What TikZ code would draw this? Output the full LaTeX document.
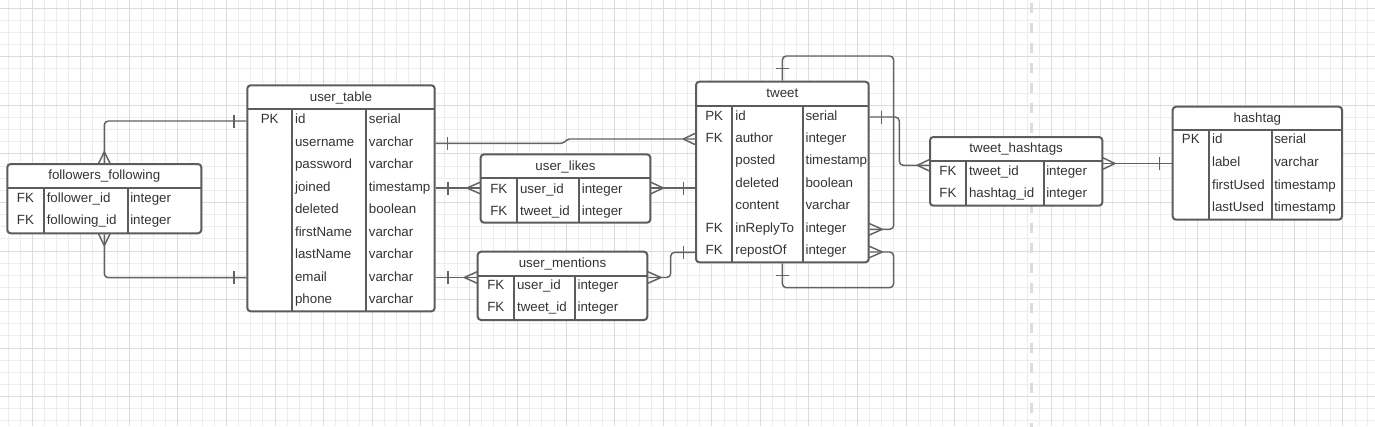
\documentclass[tikz,border=0pt]{standalone}
\usepackage{fontspec}
\setmainfont{Liberation Sans}
\usetikzlibrary{fit}
\definecolor{gridminor}{HTML}{EDEDED}
\definecolor{gridmajor}{HTML}{DCDCDC}
\definecolor{dashcol}{HTML}{DCDCDC}
\definecolor{boxcol}{HTML}{5C5C5C}
\definecolor{linecol}{HTML}{626262}
\definecolor{txtcol}{HTML}{333333}
\newcommand\erfont{\fontsize{10}{12}\selectfont}
\tikzset{
  gridmin/.style={draw=gridminor, line width=0.75pt},
  gridmaj/.style={draw=gridmajor, line width=0.75pt},
  dashline/.style={draw=dashcol, line width=2.25pt, dash pattern=on 7.125pt off 7.875pt},
  tbl/.style={draw=boxcol, line width=1.5pt, fill=white, rounded corners=2.5pt, inner sep=0pt},
  tline/.style={draw=boxcol, line width=1.5pt},
  ttl/.style={anchor=base, inner sep=0pt, text=txtcol, font=\erfont},
  fld/.style={anchor=base west, inner sep=0pt, text=txtcol, font=\erfont},
  fldk/.style={anchor=base, inner sep=0pt, text=txtcol, font=\erfont},
  conn/.style={draw=linecol, line width=1.1pt, rounded corners=3pt},
}
% table: name, x1, y1, x2, y2, header-sep y, col1 x, col2 x, title
\newcommand\ertable[9]{%
  \node[tbl, fit={(#2,#3)(#4,#5)}] (#1) {};
  \draw[tline] (#2,#6) -- (#4,#6) (#7,#6) -- (#7,#5) (#8,#6) -- (#8,#5);
  \node[ttl] (#1-title) at ({(#2+#4)/2},{(#3+#6)/2+3.8}) {#9};
  \def\kx{(#2+#7)/2}\def\nx{#7+2.8}\def\tx{#8+2.3}%
}
% row: name, y, key, field, type
\newcommand\errow[5]{%
  \if\relax\detokenize{#3}\relax\else
    \node[fldk] (#1-k) at ({\kx},{#2+4.4}) {#3};
  \fi
  \node[fld] (#1) at ({\nx},{#2+4.4}) {#4};
  \node[fld] (#1-t) at ({\tx},{#2+4.4}) {#5};
}
\newcommand\crowH[3]{\draw[conn] (#1,#3) -- (#2,{#3-6}) (#1,#3) -- (#2,{#3+6});}
\newcommand\crowV[3]{\draw[conn] (#1,#2) -- ({#1-6},#3) (#1,#2) -- ({#1+6},#3);}
\newcommand\barV[2]{\draw[conn] (#1,{#2-6.5}) -- (#1,{#2+6.5});}
\newcommand\barH[2]{\draw[conn] ({#1-6.5},#2) -- ({#1+6.5},#2);}
\begin{document}
\begin{tikzpicture}[x=0.75pt,y=-0.75pt]
\useasboundingbox (0,0) rectangle (1375,426);
\fill[white] (0,0) rectangle (1375,426);
\begin{scope}
  \clip (0,0) rectangle (1375,426);
  \foreach \i in {0,...,113} \draw[gridmin] ({8.03+12.135*\i},0) -- ({8.03+12.135*\i},426);
  \foreach \j in {0,...,34} \draw[gridmin] (0,{8.3+12.135*\j}) -- (1375,{8.3+12.135*\j});
  \foreach \i in {0,...,27} \draw[gridmaj] ({32.3+48.54*\i},0) -- ({32.3+48.54*\i},426);
  \foreach \j in {0,...,8} \draw[gridmaj] (0,{8.3+48.54*\j}) -- (1375,{8.3+48.54*\j});
  \draw[dashline] (1031.7,3.3) -- (1031.7,430);
\end{scope}

% ---------- tables ----------
\ertable{ff}{7.3}{164}{201.3}{233.3}{188}{43.7}{127.7}{followers\_following}
\errow{ff-follower}{197.7}{FK}{follower\_id}{integer}
\errow{ff-following}{220}{FK}{following\_id}{integer}

\ertable{ut}{247.3}{85.3}{434.7}{311.3}{109.3}{292}{366.3}{user\_table}
\errow{ut-id}{119.3}{PK}{id}{serial}
\errow{ut-username}{141.8}{}{username}{varchar}
\errow{ut-password}{164.3}{}{password}{varchar}
\errow{ut-joined}{186.8}{}{joined}{timestamp}
\errow{ut-deleted}{209.3}{}{deleted}{boolean}
\errow{ut-firstname}{231.8}{}{firstName}{varchar}
\errow{ut-lastname}{254.3}{}{lastName}{varchar}
\errow{ut-email}{276.8}{}{email}{varchar}
\errow{ut-phone}{299.3}{}{phone}{varchar}

\ertable{ul}{480.7}{154.3}{650.3}{222.7}{178.3}{517}{579.3}{user\_likes}
\errow{ul-user}{188.7}{FK}{user\_id}{integer}
\errow{ul-tweet}{210.7}{FK}{tweet\_id}{integer}

\ertable{um}{477.7}{251.7}{647.3}{320}{275.7}{514}{575}{user\_mentions}
\errow{um-user}{285.3}{FK}{user\_id}{integer}
\errow{um-tweet}{307.3}{FK}{tweet\_id}{integer}

\ertable{tw}{696}{81.7}{868.7}{262.3}{105.7}{732.3}{803}{tweet}
\errow{tw-id}{115.7}{PK}{id}{serial}
\errow{tw-author}{138.1}{FK}{author}{integer}
\errow{tw-posted}{160.5}{}{posted}{timestamp}
\errow{tw-deleted}{182.9}{}{deleted}{boolean}
\errow{tw-content}{205.3}{}{content}{varchar}
\errow{tw-reply}{227.7}{FK}{inReplyTo}{integer}
\errow{tw-repost}{250.1}{FK}{repostOf}{integer}

\ertable{th}{930}{137}{1102.3}{205.7}{161}{966}{1043.7}{tweet\_hashtags}
\errow{th-tweet}{171}{FK}{tweet\_id}{integer}
\errow{th-hashtag}{193.3}{FK}{hashtag\_id}{integer}

\ertable{ht}{1172.7}{106.7}{1342}{219.7}{129.7}{1209}{1271.7}{hashtag}
\errow{ht-id}{139.5}{PK}{id}{serial}
\errow{ht-label}{162.1}{}{label}{varchar}
\errow{ht-first}{184.7}{}{firstUsed}{timestamp}
\errow{ht-last}{207.3}{}{lastUsed}{timestamp}

% ---------- connectors ----------
% followers_following -> user_table (id)
\coordinate (ut-id-w) at (ut.west |- 0,121);
\draw[conn] (ff.north) |- (ut-id-w);
\crowV{104.3}{151.7}{164}
\barV{234}{121}
% followers_following -> user_table (email)
\coordinate (ut-email-w) at (ut.west |- 0,277.7);
\draw[conn] (ff.south) |- (ut-email-w);
\crowV{104.3}{245.7}{233.3}
\barV{234}{277.7}
% user_table username -> tweet author
\coordinate (ut-username-e) at (ut.east |- 0,143.3);
\coordinate (tw-author-w) at (tw.west |- 0,139);
\draw[conn, rounded corners=1.5pt] (ut-username-e) -- (563.3,143.3) -- (567.5,139) -- (tw-author-w);
\barV{447.3}{143.3}
\crowH{683.3}{696}{139}
% user_table joined -> user_likes
\coordinate (ut-joined-e) at (ut.east |- 0,188);
\coordinate (ul-user-w) at (ul.west |- 0,188);
\draw[conn] (ut-joined-e) -- (ul-user-w);
\barV{448}{188}
\crowH{467}{480.7}{188}
% user_likes -> tweet
\coordinate (ul-user-e) at (ul.east |- 0,188);
\coordinate (tw-deleted-w) at (tw.west |- 0,188);
\draw[conn] (ul-user-e) -- (tw-deleted-w);
\crowH{663.3}{650.3}{188}
\barV{683.3}{188}
% user_table email -> user_mentions
\coordinate (ut-email-e) at (ut.east |- 0,277.5);
\coordinate (um-user-w) at (um.west |- 0,277.5);
\draw[conn] (ut-email-e) -- (um-user-w);
\barV{448}{277.5}
\crowH{464.3}{477.7}{277.5}
% user_mentions -> tweet repostOf
\coordinate (um-user-e) at (um.east |- 0,277.5);
\coordinate (tw-repost-w) at (tw.west |- 0,252.3);
\draw[conn] (um-user-e) -- (670.7,277.5) |- (tw-repost-w);
\crowH{661}{647.3}{277.5}
\barV{683.3}{252.3}
% tweet self loop (inReplyTo)
\coordinate (tw-reply-e) at (tw.east |- 0,229.3);
\draw[conn] (tw.north) |- (893.7,56) |- (tw-reply-e);
\barH{782.4}{68.3}
\crowH{882.3}{868.7}{229.3}
% tweet self loop (repostOf)
\coordinate (tw-repost-e) at (tw.east |- 0,252);
\draw[conn] (tw.south) |- (893.7,287.7) |- (tw-repost-e);
\barH{782.4}{275.3}
\crowH{882.3}{868.7}{252}
% tweet id -> tweet_hashtags
\coordinate (tw-id-e) at (tw.east |- 0,117);
\coordinate (th-tweet-w) at (th.west |- 0,165.3);
\draw[conn] (tw-id-e) -- (899.3,117) -- (899.3,165.3) -- (th-tweet-w);
\barV{881.3}{117}
\crowH{917.3}{930}{165.3}
% tweet_hashtags -> hashtag
\coordinate (th-hashtag-e) at (th.east |- 0,163.5);
\coordinate (ht-id-w) at (ht.west |- 0,163.5);
\draw[conn] (th-hashtag-e) -- (ht-id-w);
\crowH{1115}{1102.3}{163.5}
\barV{1159.3}{163.5}
\end{tikzpicture}
\end{document}
